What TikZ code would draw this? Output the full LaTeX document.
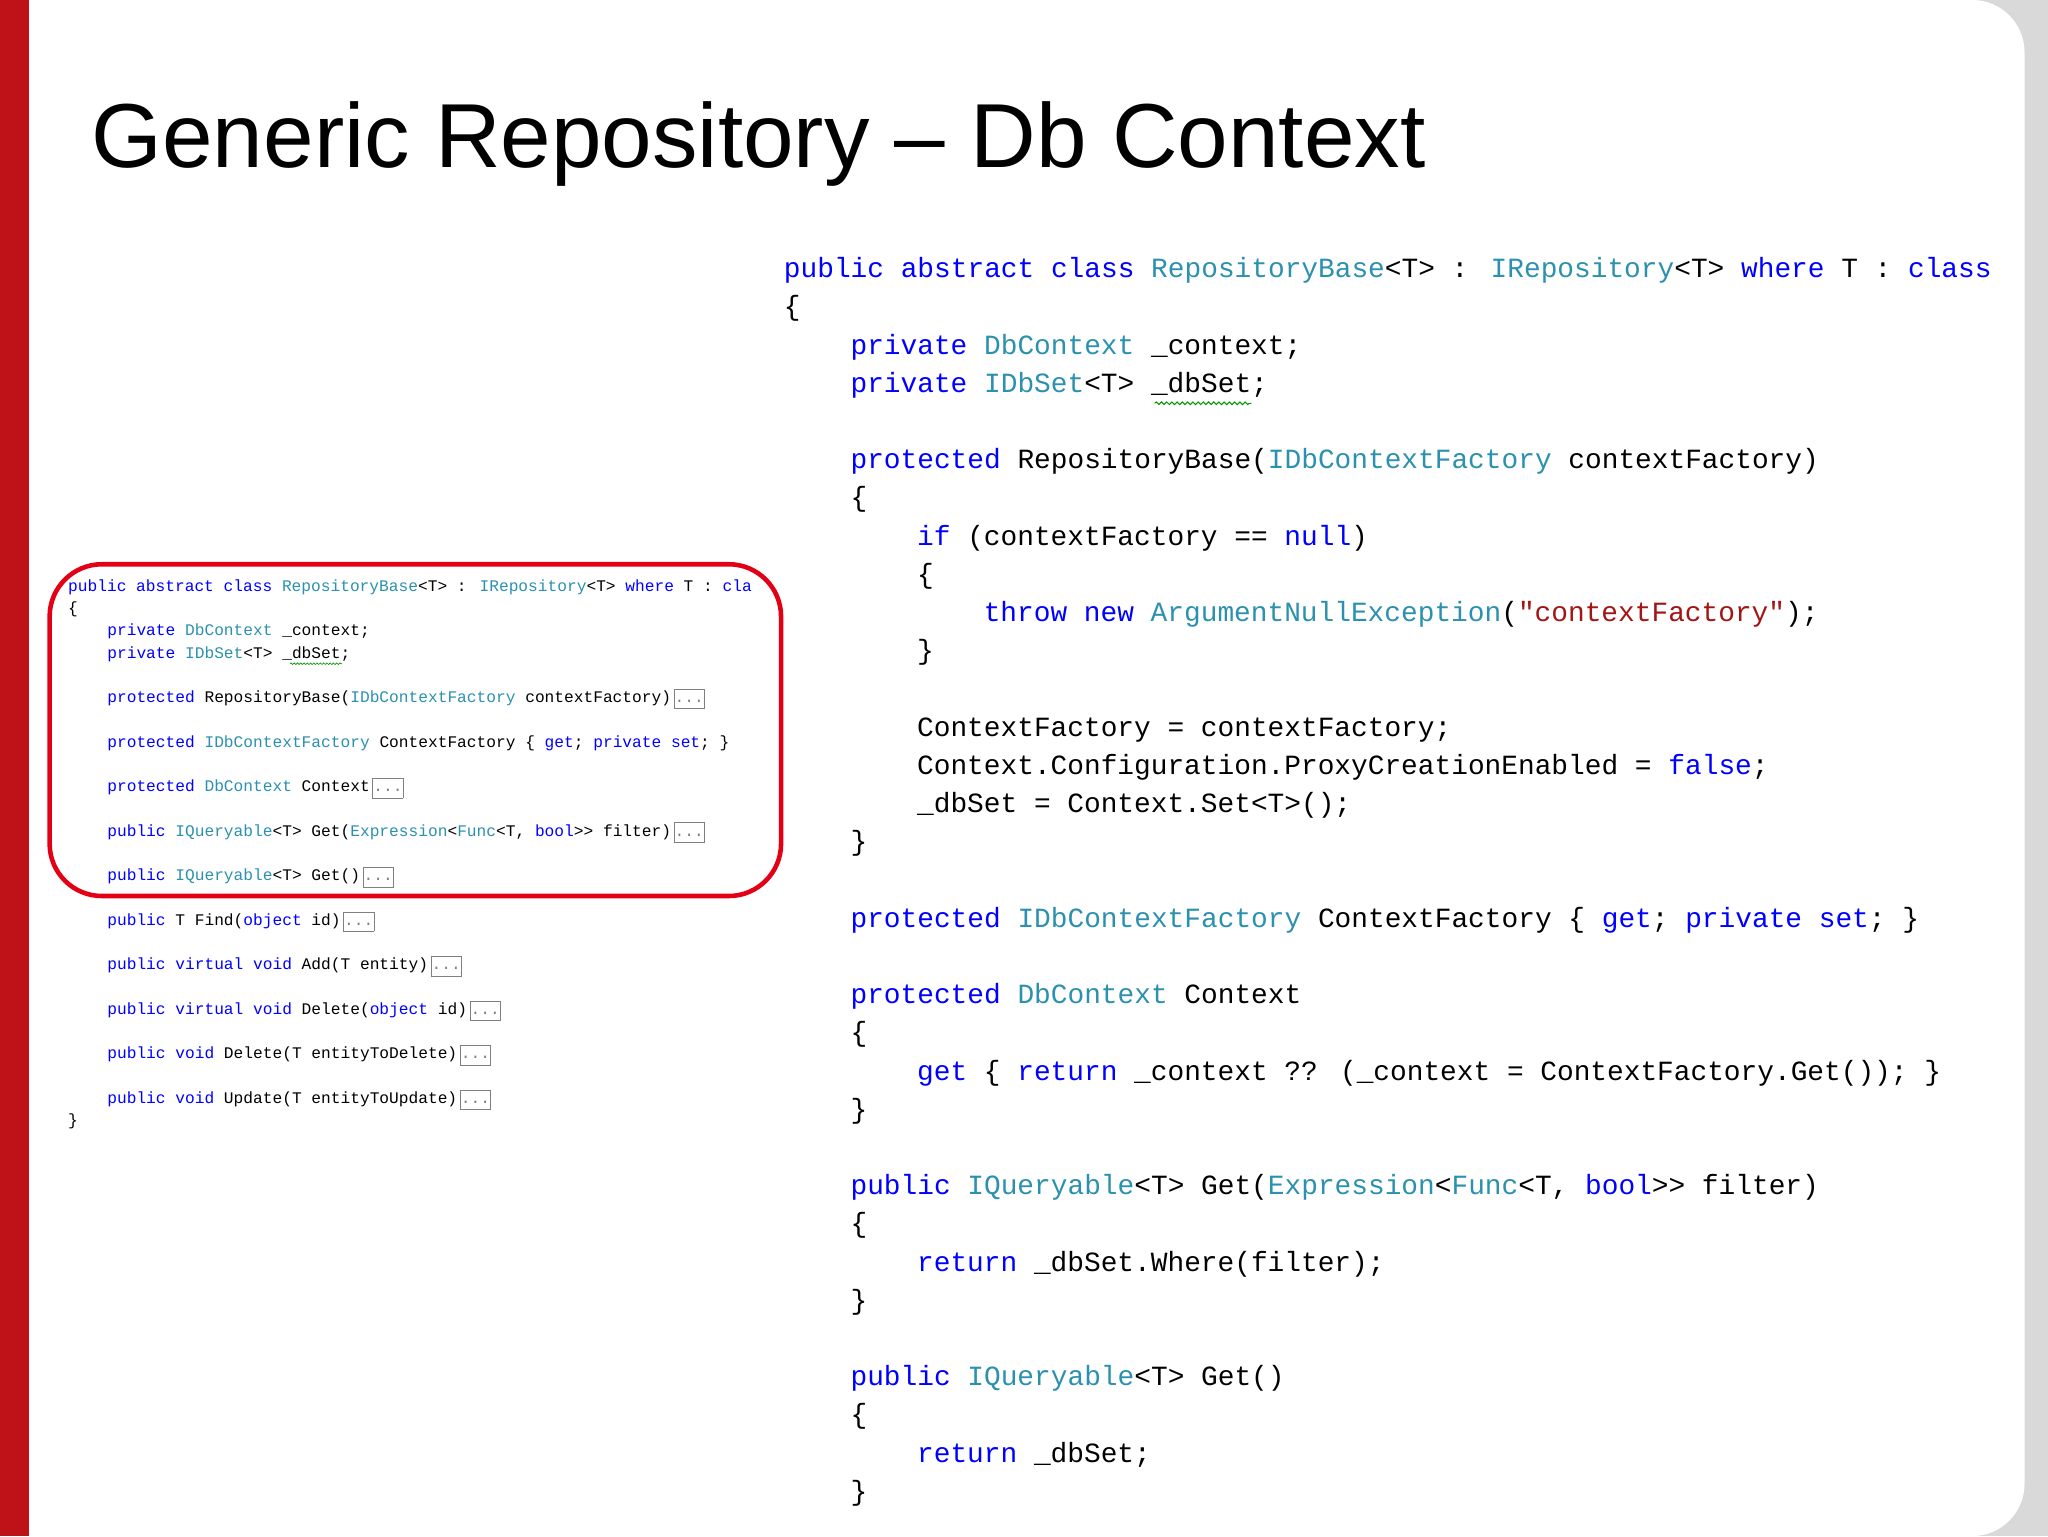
\documentclass[tikz,border=0pt]{standalone}
\usepackage{fontspec}
\setmainfont{Liberation Sans}
\newfontfamily\codefont{Liberation Mono}
\usetikzlibrary{decorations.pathmorphing}
\definecolor{kw}{RGB}{0,0,255}
\definecolor{ty}{RGB}{43,145,175}
\definecolor{st}{RGB}{163,21,21}
\definecolor{barred}{RGB}{190,18,24}
\definecolor{ringred}{RGB}{228,0,20}
\newcommand\kw[1]{\textcolor{kw}{#1}}
\newcommand\ty[1]{\textcolor{ty}{#1}}
\newcommand\st[1]{\textcolor{st}{#1}}
\newcommand\dbox{\,\fcolorbox{gray}{white}{\strut\textcolor{gray}{...}}}
\setlength{\fboxsep}{0.3pt}
\begin{document}
\begin{tikzpicture}[x=1pt,y=-1pt,
  big/.style={anchor=mid west,inner sep=0,font=\codefont\fontsize{21.3}{24}\selectfont},
  small/.style={anchor=mid west,inner sep=0,font=\codefont\fontsize{12.4}{14}\selectfont},
  squig/.style={draw=green!60!black,line width=0.8pt,decorate,decoration={snake,amplitude=1pt,segment length=4pt}}]
\useasboundingbox (0,0) rectangle (1568,1176);
\fill[gray!30] (1400,0) rectangle (1568,1176);
\fill[white,rounded corners=40] (-60,0) rectangle (1550,1176);
\fill[barred] (0,0) rectangle (22,1176);
\node[anchor=base west,inner sep=0,font=\fontsize{69.6}{80}\selectfont] (title) at (70,128) {Generic Repository – Db Context};
% right code
\def\R#1{\fpeval{210+29.25*#1}}
\node[big] (r0) at (600,\R{0}) {\kw{public abstract class} \ty{RepositoryBase}<T> : \ty{IRepository}<T> \kw{where} T : \kw{class}};
\node[big] (r1) at (600,\R{1}) {\{};
\node[big] (r2) at (651,\R{2}) {\kw{private} \ty{DbContext} \_context;};
\node[big] (r3) at (651,\R{3}) {\kw{private} \ty{IDbSet}<T> \_dbSet;};
\draw[squig] (884,\R{3}+11) -- (958,\R{3}+11);
\node[big] (r5) at (651,\R{5}) {\kw{protected} RepositoryBase(\ty{IDbContextFactory} contextFactory)};
\node[big] (r6) at (651,\R{6}) {\{};
\node[big] (r7) at (702,\R{7}) {\kw{if} (contextFactory == \kw{null})};
\node[big] (r8) at (702,\R{8}) {\{};
\node[big] (r9) at (753,\R{9}) {\kw{throw new} \ty{ArgumentNullException}(\st{"contextFactory"});};
\node[big] (r10) at (702,\R{10}) {\}};
\node[big] (r12) at (702,\R{12}) {ContextFactory = contextFactory;};
\node[big] (r13) at (702,\R{13}) {Context.Configuration.ProxyCreationEnabled = \kw{false};};
\node[big] (r14) at (702,\R{14}) {\_dbSet = Context.Set<T>();};
\node[big] (r15) at (651,\R{15}) {\}};
\node[big] (r17) at (651,\R{17}) {\kw{protected} \ty{IDbContextFactory} ContextFactory \{ \kw{get}; \kw{private set}; \}};
\node[big] (r19) at (651,\R{19}) {\kw{protected} \ty{DbContext} Context};
\node[big] (r20) at (651,\R{20}) {\{};
\node[big] (r21) at (702,\R{21}) {\kw{get} \{ \kw{return} \_context ?? (\_context = ContextFactory.Get()); \}};
\node[big] (r22) at (651,\R{22}) {\}};
\node[big] (r24) at (651,\R{24}) {\kw{public} \ty{IQueryable}<T> Get(\ty{Expression}<\ty{Func}<T, \kw{bool}>> filter)};
\node[big] (r25) at (651,\R{25}) {\{};
\node[big] (r26) at (702,\R{26}) {\kw{return} \_dbSet.Where(filter);};
\node[big] (r27) at (651,\R{27}) {\}};
\node[big] (r29) at (651,\R{29}) {\kw{public} \ty{IQueryable}<T> Get()};
\node[big] (r30) at (651,\R{30}) {\{};
\node[big] (r31) at (702,\R{31}) {\kw{return} \_dbSet;};
\node[big] (r32) at (651,\R{32}) {\}};
% left code
\def\L#1{\fpeval{450+17.05*#1}}
\node[small] (l0) at (52,\L{0}) {\kw{public abstract class} \ty{RepositoryBase}<T> : \ty{IRepository}<T> \kw{where} T : \kw{cla}};
\node[small] (l1) at (52,\L{1}) {\{};
\node[small] (l2) at (82,\L{2}) {\kw{private} \ty{DbContext} \_context;};
\node[small] (l3) at (82,\L{3}) {\kw{private} \ty{IDbSet}<T> \_dbSet;};
\draw[squig,line width=0.5pt,decoration={snake,amplitude=0.6pt,segment length=2.5pt}] (222,\L{3}+7) -- (262,\L{3}+7);
\node[small] (l5) at (82,\L{5}) {\kw{protected} RepositoryBase(\ty{IDbContextFactory} contextFactory)\dbox};
\node[small] (l7) at (82,\L{7}) {\kw{protected} \ty{IDbContextFactory} ContextFactory \{ \kw{get}; \kw{private set}; \}};
\node[small] (l9) at (82,\L{9}) {\kw{protected} \ty{DbContext} Context\dbox};
\node[small] (l11) at (82,\L{11}) {\kw{public} \ty{IQueryable}<T> Get(\ty{Expression}<\ty{Func}<T, \kw{bool}>> filter)\dbox};
\node[small] (l13) at (82,\L{13}) {\kw{public} \ty{IQueryable}<T> Get()\dbox};
\node[small] (l15) at (82,\L{15}) {\kw{public} T Find(\kw{object} id)\dbox};
\node[small] (l17) at (82,\L{17}) {\kw{public virtual void} Add(T entity)\dbox};
\node[small] (l19) at (82,\L{19}) {\kw{public virtual void} Delete(\kw{object} id)\dbox};
\node[small] (l21) at (82,\L{21}) {\kw{public void} Delete(T entityToDelete)\dbox};
\node[small] (l23) at (82,\L{23}) {\kw{public void} Update(T entityToUpdate)\dbox};
\node[small] (l24) at (52,\L{24}) {\}};
\draw[ringred,line width=3.5pt,rounded corners=40] (38,432) rectangle (598,686);
\end{tikzpicture}
\end{document}
